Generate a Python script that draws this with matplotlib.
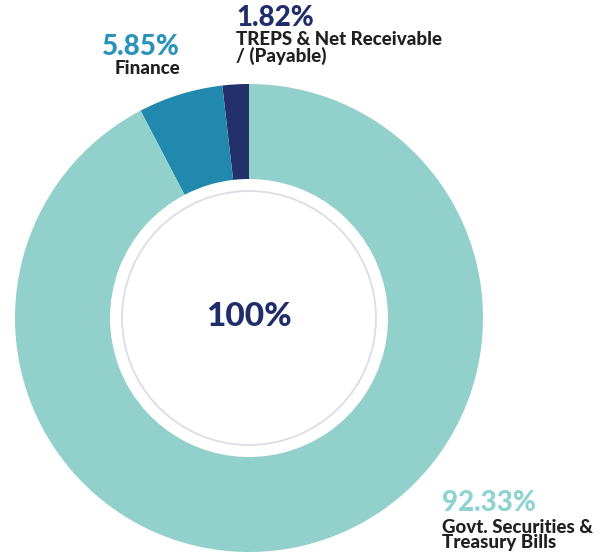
import matplotlib
matplotlib.use("Agg")
import matplotlib.pyplot as plt
from matplotlib.patches import Circle

categories = ["TREPS & Net Receivable\n/ (Payable)", "Finance", "Govt. Securities &\nTreasury Bills"]
values = [1.82, 5.85, 92.33]
pct_labels = ["1.82%", "5.85%", "92.33%"]
colors = ["#24306A", "#2188AE", "#91D0CB"]
label_colors = ["#1F2E6B", "#2A93BC", "#8ED3CF"]
center_label = "100%"

W, H = 612, 553
fig = plt.figure(figsize=(W / 100, H / 100), dpi=100)
ax = fig.add_axes([0, 0, 1, 1])

cx, cy = 249, H - 318
R_out, R_in = 234, 139

ax.pie(values, colors=colors, startangle=90, counterclock=True,
       center=(cx, cy), radius=R_out,
       wedgeprops=dict(width=R_out - R_in, edgecolor="none"))
ax.add_patch(Circle((cx, cy), 127, fill=False, ec="#DCDCE6", lw=1.3))

ax.set_xlim(0, W)
ax.set_ylim(0, H)
ax.set_aspect("equal")
ax.axis("off")

font = "Lato"
dark = "#231F20"
bigw = "black"
smallw = "black"
small = 13.5

# center
ax.text(cx, H - 316, center_label, ha="center", va="center", fontsize=24,
        fontweight=bigw, color=label_colors[0], family=font)

# TREPS
ax.text(236, H - 18, pct_labels[0], ha="left", va="center", fontsize=20,
        fontweight=bigw, color=label_colors[0], family=font)
ax.text(236, H - 48, categories[0], ha="left", va="center", fontsize=small,
        fontweight=smallw, color=dark, family=font, linespacing=0.92)

# Finance
ax.text(180, H - 47, pct_labels[1], ha="right", va="center", fontsize=20,
        fontweight=bigw, color=label_colors[1], family=font)
ax.text(180, H - 69, categories[1], ha="right", va="center", fontsize=small,
        fontweight=smallw, color=dark, family=font)

# Govt
ax.text(442, H - 503, pct_labels[2], ha="left", va="center", fontsize=20,
        fontweight=bigw, color=label_colors[2], family=font)
ax.text(442, H - 535, categories[2], ha="left", va="center", fontsize=small,
        fontweight=smallw, color=dark, family=font, linespacing=0.92)

fig.savefig("out.png", dpi=100, facecolor="white")
